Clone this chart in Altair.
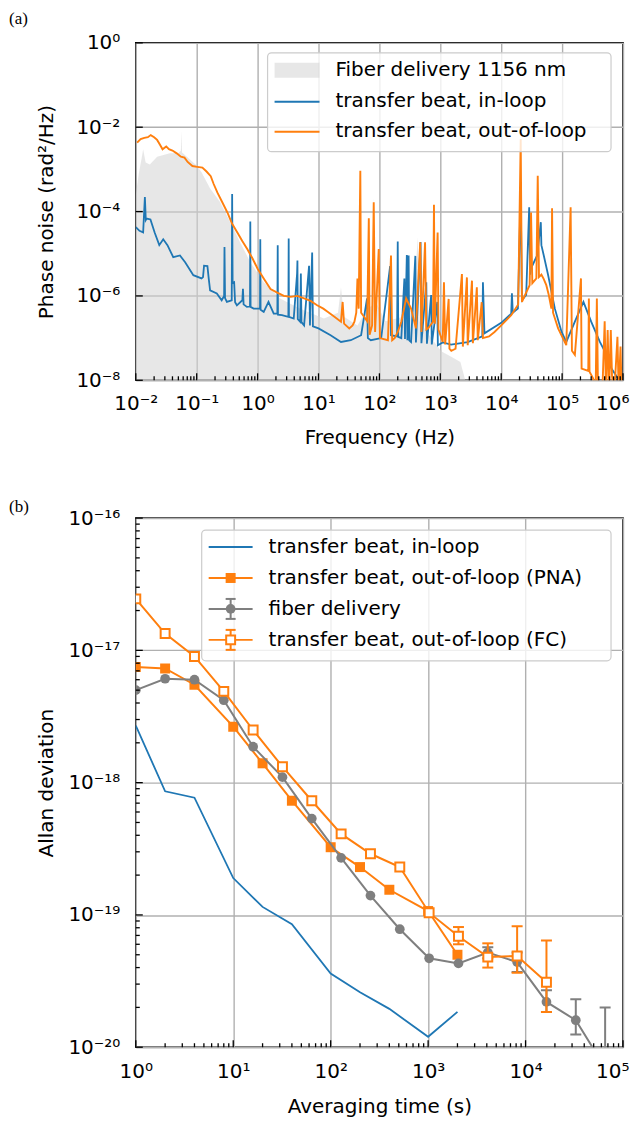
import math
import altair as alt
import pandas as pd

# ---------------- Panel (a): phase noise spectra ----------------
fiber_points = [
    (0.01, 2.5e-4), (0.0112, 7.9e-4), (0.0126, 2.0e-3), (0.0132, 3.0e-3), (0.0145, 1.45e-3),
    (0.017, 1.3e-3), (0.0224, 2.0e-3), (0.0363, 2.4e-3), (0.05, 2.4e-3), (0.055, 2.8e-3),
    (0.0562, 8.1e-3), (0.0575, 2.5e-3), (0.079, 1.66e-3), (0.1, 1.23e-3), (0.12, 8.5e-4),
    (0.166, 3.5e-4), (0.243, 1.66e-4), (0.355, 5.6e-5), (0.513, 1.9e-5), (0.759, 6.3e-6),
    (1.26, 2.1e-6), (2.34, 8.7e-7), (5.0, 5.0e-7), (12.3, 2.9e-7), (20.9, 4.0e-7),
    (23.4, 1.6e-6), (26.3, 3.2e-7), (43.6, 2.0e-7), (63, 5.0e-7), (77, 6.0e-7),
    (79.4, 2.3e-4), (82, 8.7e-7), (126, 2.5e-7), (251, 3.2e-7), (355, 5.0e-7),
    (427, 2.45e-5), (457, 2.5e-7), (708, 1.0e-7), (1047, 4.8e-8), (1514, 3.6e-8),
    (2138, 2.7e-8), (2570, 1.0e-8), (2818, 3.0e-9),
]

inloop_points = [
    (0.01, 4.3e-5), (0.0115, 3.5e-5), (0.0132, 3.2e-5), (0.0141, 2.2e-4), (0.0146, 6.3e-5),
    (0.0151, 6.8e-5), (0.0174, 6.5e-5), (0.0204, 3.2e-5), (0.0243, 1.6e-5), (0.0282, 2.2e-5),
    (0.0331, 1.6e-5), (0.0412, 8.3e-6), (0.0531, 9.1e-6), (0.0646, 6.3e-6), (0.0881, 3.1e-6),
    (0.120, 2.6e-6), (0.127, 2.8e-6), (0.132, 5.2e-6), (0.150, 5.1e-6), (0.158, 2.5e-6),
    (0.166, 1.35e-6), (0.214, 1.15e-6), (0.257, 7.9e-7), (0.282, 1.0e-6), (0.286, 1.45e-5),
    (0.292, 8.9e-7), (0.313, 7.2e-7), (0.376, 7.9e-7), (0.382, 2.6e-4), (0.389, 2.0e-6),
    (0.412, 2.1e-6), (0.427, 7.1e-7), (0.457, 6.0e-7), (0.562, 7.9e-7), (0.575, 1.48e-6),
    (0.589, 6.3e-7), (0.667, 5.5e-7), (0.75, 5.6e-7), (0.759, 5.8e-5), (0.767, 5.5e-7),
    (0.86, 5.0e-7), (1.096, 5.0e-7), (1.107, 2.2e-5), (1.12, 4.7e-7), (1.26, 4.2e-7),
    (1.51, 7.2e-7), (1.84, 3.8e-7), (2.11, 3.8e-7), (2.14, 1.6e-5), (2.16, 3.6e-7),
    (2.51, 3.5e-7), (3.2, 3.2e-7), (3.24, 2.3e-5), (3.27, 3.2e-7), (3.92, 2.9e-7),
    (4.45, 3.4e-6), (4.51, 6.9e-6), (4.57, 2.8e-7), (5.0, 2.45e-7), (5.13, 3.4e-6),
    (5.25, 2.4e-7), (5.8, 2.0e-7), (7.0, 5.2e-6), (7.24, 2.0e-7), (7.87, 1.07e-5),
    (8.1, 1.9e-7), (10, 1.7e-7), (15.8, 1.17e-7), (23.4, 8.1e-8), (33.9, 8.9e-8),
    (50.1, 1.17e-7), (62.7, 8.7e-7), (64.6, 1.0e-7), (72.4, 8.9e-8), (107, 1.0e-7),
    (150, 5.1e-6), (155, 1.17e-7), (195, 1.1e-7), (200, 1.95e-5), (204, 1.07e-7),
    (229, 1.0e-7), (257, 2.6e-6), (263, 9.5e-8), (282, 9.3e-6), (288, 8.9e-8),
    (302, 9.1e-6), (309, 8.9e-8), (331, 8.1e-8), (389, 8.9e-6), (398, 7.9e-8),
    (474, 1.9e-5), (490, 7.6e-8), (589, 2.1e-6), (603, 7.4e-8), (708, 1.05e-6),
    (724, 7.1e-8), (891, 7.2e-7), (912, 6.8e-8), (1096, 7.9e-8), (1500, 7.0e-8),
    (2818, 8.0e-8), (4900, 1.1e-7), (5012, 2.1e-6), (5309, 1.3e-7), (1.0e4, 2.3e-7),
    (1.46e4, 3.8e-7), (1.5e4, 1.15e-6), (1.55e4, 4.0e-7), (1.88e4, 5.0e-7), (2.09e4, 2.8e-4),
    (2.19e4, 7.9e-7), (2.57e4, 1.05e-6), (2.88e4, 1.26e-4), (2.99e4, 3.2e-6), (3.09e4, 4.5e-6),
    (3.89e4, 9.1e-6), (4.47e4, 5.6e-5), (4.57e4, 1.6e-5), (5.0e4, 9.1e-6), (5.9e4, 3.1e-6),
    (7.6e4, 5.0e-7), (9.8e4, 1.4e-7), (1.17e5, 8.1e-8), (1.62e5, 2.45e-7), (2.24e5, 7.2e-7),
    (3.0e5, 2.45e-7), (4.17e5, 8.1e-8), (5.37e5, 4.0e-8), (6.46e5, 1.9e-8), (8.3e5, 1.1e-8),
    (1.0e6, 7.9e-9),
]

outloop_points = [
    (0.0105, 4.3e-3), (0.012, 5.2e-3), (0.0138, 5.6e-3), (0.0158, 5.8e-3), (0.0176, 6.5e-3),
    (0.020, 5.8e-3), (0.0224, 5.0e-3), (0.0251, 3.8e-3), (0.0275, 3.0e-3), (0.0316, 3.5e-3),
    (0.035, 3.0e-3), (0.040, 2.8e-3), (0.047, 2.4e-3), (0.055, 2.0e-3), (0.063, 1.9e-3),
    (0.071, 1.5e-3), (0.085, 1.2e-3), (0.102, 1.15e-3), (0.124, 1.1e-3), (0.145, 8.9e-4),
    (0.17, 6.9e-4), (0.19, 4.5e-4), (0.219, 2.8e-4), (0.263, 1.66e-4), (0.319, 9.5e-5),
    (0.38, 5.2e-5), (0.465, 3.2e-5), (0.56, 2.0e-5), (0.676, 1.3e-5), (0.83, 7.6e-6),
    (1.0, 4.4e-6), (1.26, 2.6e-6), (1.63, 1.45e-6), (2.1, 1.2e-6), (2.7, 1.0e-6),
    (3.5, 9.5e-7), (4.47, 1.0e-6), (5.8, 8.7e-7), (7.4, 7.6e-7), (9.5, 6.0e-7),
    (12.0, 5.0e-7), (14.1, 4.2e-7), (17.8, 3.3e-7), (23.4, 2.45e-7), (24.9, 7.2e-7),
    (26.3, 2.2e-7), (32, 1.7e-7), (36.3, 2.0e-7), (38.9, 2.45e-7), (41.7, 4.0e-7),
    (43.6, 2.6e-6), (45.7, 5.0e-7), (48.6, 9.3e-4), (50.1, 4.0e-7), (56, 3.2e-7),
    (63, 2.5e-7), (67, 6.9e-5), (69, 1.2e-7), (75.9, 2.0e-7), (80.7, 1.66e-4),
    (85, 1.4e-7), (97.5, 1.3e-5), (102, 1.0e-7), (138, 8.9e-8), (155, 9.1e-6),
    (162, 8.9e-8), (178, 1.0e-7), (200, 1.4e-7), (229, 2.45e-7), (275, 8.7e-7),
    (331, 5.0e-7), (398, 1.7e-7), (468, 1.86e-5), (490, 1.4e-7), (562, 1.86e-5),
    (589, 1.6e-7), (631, 1.7e-7), (759, 2.45e-7), (787, 1.45e-4), (813, 2.2e-7),
    (904, 3.2e-5), (933, 1.6e-7), (1096, 8.1e-8), (1148, 2.1e-6), (1202, 7.1e-8),
    (1371, 8.5e-7), (1413, 5.6e-8), (1514, 5.0e-8), (1778, 5.6e-8), (2265, 3.3e-6),
    (2344, 6.3e-8), (2735, 2.75e-6), (2818, 6.8e-8), (3311, 2.3e-6), (3428, 7.6e-8),
    (3981, 1.6e-6), (4121, 8.9e-8), (4786, 7.1e-7), (5012, 1.0e-7), (6310, 1.1e-7),
    (7762, 1.4e-7), (1.0e4, 2.0e-7), (1.46e4, 3.5e-7), (1.9e4, 6.3e-7), (2.09e4, 5.2e-3),
    (2.19e4, 7.2e-7), (2.5e4, 1.1e-6), (2.93e4, 1.8e-6), (3.09e4, 9.5e-5), (3.24e4, 2.0e-6),
    (3.78e4, 2.6e-6), (3.98e4, 7.1e-4), (4.17e4, 2.8e-6), (4.57e4, 3.2e-6), (5.0e4, 2.5e-6),
    (5.5e4, 1.8e-6), (6.0e4, 1.1e-6), (6.67e4, 5.0e-7), (6.84e4, 1.2e-4), (7.1e4, 4.0e-7),
    (8.6e4, 1.7e-7), (1.17e5, 6.8e-8), (1.38e5, 1.26e-4), (1.45e5, 5.0e-8), (1.62e5, 4.0e-8),
    (2.04e5, 2.6e-6), (2.09e5, 1.9e-8), (2.69e5, 1.66e-8), (2.75e5, 8.7e-7), (2.82e5, 1.6e-8),
    (3.24e5, 1.1e-8), (3.55e5, 5e-9), (3.72e5, 8.7e-7), (3.89e5, 5e-9), (4.57e5, 5e-9),
    (5.0e5, 2.5e-7), (5.25e5, 5e-9), (5.6e5, 1.55e-7), (5.9e5, 5e-9), (6.3e5, 1.55e-7),
    (6.6e5, 1.26e-8), (7.2e5, 5e-9), (8.1e5, 1.07e-7), (8.5e5, 5e-9), (9.1e5, 6.3e-8),
    (9.5e5, 5e-9), (1.0e6, 5e-9),
]

# ---------------- Panel (b): Allan deviation ----------------
tau_inloop = [1, 2, 4, 10, 20, 40, 100, 200, 400, 1000, 2000]
adev_inloop = [2.7e-18, 8.6e-19, 7.7e-19, 1.9e-19, 1.15e-19, 8.5e-20, 3.6e-20, 2.6e-20,
               1.95e-20, 1.2e-20, 1.85e-20]

tau_pna = [1, 2, 4, 10, 20, 40, 100, 200, 400, 1000, 2000]
adev_pna = [7.5e-18, 7.3e-18, 5.5e-18, 2.65e-18, 1.4e-18, 7.3e-19, 3.25e-19, 2.3e-19,
            1.55e-19, 1.07e-19, 5.0e-20]

tau_fiber = [1, 2, 4, 8, 16, 32, 64, 128, 256, 512, 1024, 2048, 4096, 8192, 16384, 32768, 65536]
adev_fiber = [5.0e-18, 6.1e-18, 6.0e-18, 4.2e-18, 1.87e-18, 1.1e-18, 5.35e-19, 2.7e-19,
              1.4e-19, 7.8e-20, 4.7e-20, 4.3e-20, 5.2e-20, 4.4e-20, 2.2e-20, 1.6e-20, 7.0e-21]
fiber_err_tau = [4096, 8192, 16384, 32768, 65536]
fiber_err_lo = [4.7e-20, 3.7e-20, 1.85e-20, 1.25e-20, 3.0e-21]
fiber_err_hi = [5.7e-20, 5.2e-20, 2.7e-20, 2.3e-20, 2.0e-20]

tau_fc = [1, 2, 4, 8, 16, 32, 64, 128, 256, 512, 1024, 2048, 4096, 8192, 16384]
adev_fc = [2.45e-17, 1.34e-17, 9.0e-18, 4.9e-18, 2.5e-18, 1.32e-18, 7.3e-19, 4.1e-19,
           2.9e-19, 2.3e-19, 1.04e-19, 6.9e-20, 4.8e-20, 4.9e-20, 3.1e-20]
fc_err_tau = [2048, 4096, 8192, 16384]
fc_err_lo = [6.0e-20, 4.0e-20, 3.65e-20, 1.85e-20]
fc_err_hi = [8.1e-20, 6.1e-20, 8.2e-20, 6.4e-20]

# tick positions / labels
xa_major = [1e-2, 1e-1, 1e0, 1e1, 1e2, 1e3, 1e4, 1e5, 1e6]
ya_major = [1e0, 1e-2, 1e-4, 1e-6, 1e-8]
xb_major = [1e0, 1e1, 1e2, 1e3, 1e4, 1e5]
yb_major = [1e-16, 1e-17, 1e-18, 1e-19, 1e-20]
minor_mult = [2, 3, 4, 5, 6, 7, 8, 9]

BLUE, ORANGE, GRAY = "#1f77b4", "#ff7f0e", "#7f7f7f"
FONT = "DejaVu Sans"
FS = 20

SUP = str.maketrans("-0123456789", "⁻⁰¹²³⁴⁵⁶⁷⁸⁹")


def pow_expr(vals):
    parts = []
    for v in vals:
        e = int(round(math.log10(v)))
        parts.append(f"round(log(datum.value)/LN10) == {e} ? '10{str(e).translate(SUP)}'")
    return " : ".join(parts) + " : ''"


def one():
    return pd.DataFrame({"k": [0]})


def txt(s, x, y, size=FS, font=FONT, align="left", baseline="middle"):
    return alt.Chart(one()).mark_text(text=s, font=font, fontSize=size, align=align,
                                      baseline=baseline, color="black").encode(
        x=alt.value(x), y=alt.value(y))


def hline(x1, x2, y, color, w=2):
    return alt.Chart(one()).mark_rule(color=color, strokeWidth=w).encode(
        x=alt.value(x1), x2=alt.value(x2), y=alt.value(y))


def legend_box(x1, x2, y1, y2):
    return alt.Chart(one()).mark_rect(fill="white", fillOpacity=0.8, stroke="#cccccc",
                                      strokeWidth=1.2, cornerRadius=4).encode(
        x=alt.value(x1), x2=alt.value(x2), y=alt.value(y1), y2=alt.value(y2))


def common_axis(vals, title, lp, tp, last=None):
    kw = {}
    if last is not None:
        kw["labelAlign"] = {"condition": {"test": f"datum.value > {last}", "value": "right"},
                            "value": "center"}
        kw["labelOffset"] = {"condition": {"test": f"datum.value > {last}", "value": 6},
                             "value": 0}
    return alt.Axis(values=vals, labelExpr=pow_expr(vals), title=title, grid=True, ticks=False,
                    domain=False, labelFlush=False, labelOverlap=False, labelPadding=lp,
                    titlePadding=tp, **kw)


# ----- panel (a) -----
W1, H1 = 488, 338
xs_a = alt.Scale(type="log", domain=[1e-2, 1e6], nice=False)
ys_a = alt.Scale(type="log", domain=[1e-8, 1e0], nice=False)
ax_xa = common_axis(xa_major, "Frequency (Hz)", 13, 14, last=5e5)
ax_ya = common_axis(ya_major, "Phase noise (rad²/Hz)", 16, 19)
XA = lambda f="f": alt.X(f"{f}:Q", scale=xs_a, axis=ax_xa)
YA = lambda f="s": alt.Y(f"{f}:Q", scale=ys_a, axis=ax_ya, stack=None)

df_fib = pd.DataFrame(fiber_points, columns=["f", "s"])
df_in = pd.DataFrame(inloop_points, columns=["f", "s"])
df_out = pd.DataFrame(outloop_points, columns=["f", "s"])

area_a = alt.Chart(df_fib).mark_area(color="#d3d3d3", opacity=0.55, clip=True).encode(
    x=XA(), y=YA(), y2=alt.value(H1))
line_in = alt.Chart(df_in).mark_line(color=BLUE, strokeWidth=1.8, clip=True).encode(x=XA(), y=YA())
line_out = alt.Chart(df_out).mark_line(color=ORANGE, strokeWidth=1.9, clip=True).encode(x=XA(), y=YA())

xa_minor = [m * d for d in xa_major[:-1] for m in minor_mult]


def xticks(vals, X, H, length):
    return alt.Chart(pd.DataFrame({"f": vals, "t": vals})).mark_rule(color="black", strokeWidth=1.3).encode(
        x=X, y=alt.value(H), y2=alt.value(H - length))


def yticks(vals, Y, length):
    return alt.Chart(pd.DataFrame({"s": vals, "a": vals})).mark_rule(color="black", strokeWidth=1.3).encode(
        y=Y, x=alt.value(0), x2=alt.value(length))


leg_a = [
    legend_box(132, 476, 10, 109),
    alt.Chart(one()).mark_rect(color="#d3d3d3", opacity=0.55).encode(
        x=alt.value(139), x2=alt.value(184), y=alt.value(20), y2=alt.value(35)),
    hline(139, 184, 59, BLUE),
    hline(139, 184, 89, ORANGE),
    txt("Fiber delivery 1156 nm", 200, 27),
    txt("transfer beat, in-loop", 200, 58),
    txt("transfer beat, out-of-loop", 200, 88),
]

panel_a = alt.layer(
    area_a, line_in, line_out,
    xticks(xa_major, XA(), H1, 7), xticks(xa_minor, XA(), H1, 4),
    yticks(ya_major, YA(), 7),
    *leg_a,
    txt("(a)", -127, -32, size=17, font="Liberation Serif", baseline="top"),
).properties(width=W1, height=H1)

# ----- panel (b) -----
W2, H2 = 488, 530
xs_b = alt.Scale(type="log", domain=[1e0, 1e5], nice=False)
ys_b = alt.Scale(type="log", domain=[1e-20, 1e-16], nice=False)
ax_xb = common_axis(xb_major, "Averaging time (s)", 14, 15, last=5e4)
ax_yb = common_axis(yb_major, "Allan deviation", 16, 11)
X = lambda f="t": alt.X(f"{f}:Q", scale=xs_b, axis=ax_xb)
Y = lambda f="a": alt.Y(f"{f}:Q", scale=ys_b, axis=ax_yb, stack=None)

df_il = pd.DataFrame({"t": tau_inloop, "a": adev_inloop})
df_pna = pd.DataFrame({"t": tau_pna, "a": adev_pna})
df_fd = pd.DataFrame({"t": tau_fiber, "a": adev_fiber})
df_fde = pd.DataFrame({"t": fiber_err_tau, "lo": fiber_err_lo, "hi": fiber_err_hi})
df_fc = pd.DataFrame({"t": tau_fc, "a": adev_fc})
df_fce = pd.DataFrame({"t": fc_err_tau, "lo": fc_err_lo, "hi": fc_err_hi})

il_line = alt.Chart(df_il).mark_line(color=BLUE, strokeWidth=1.8, clip=True).encode(x=X(), y=Y())
pna_line = alt.Chart(df_pna).mark_line(color=ORANGE, strokeWidth=2, clip=True).encode(x=X(), y=Y())
pna_pts = alt.Chart(df_pna).mark_point(shape="square", filled=True, color=ORANGE, size=100,
                                       opacity=1, clip=True).encode(x=X(), y=Y())


def errbars(df, color):
    bar = alt.Chart(df).mark_rule(color=color, strokeWidth=2, clip=True).encode(
        x=X(), y=Y("lo"), y2=alt.Y2("hi:Q"))
    cap_lo = alt.Chart(df).mark_tick(color=color, orient="horizontal", size=11, thickness=2,
                                     opacity=1, clip=True).encode(x=X(), y=Y("lo"))
    cap_hi = alt.Chart(df).mark_tick(color=color, orient="horizontal", size=11, thickness=2,
                                     opacity=1, clip=True).encode(x=X(), y=Y("hi"))
    return [bar, cap_lo, cap_hi]


fd_line = alt.Chart(df_fd).mark_line(color=GRAY, strokeWidth=2, clip=True).encode(x=X(), y=Y())
fd_pts = alt.Chart(df_fd).mark_circle(color=GRAY, size=95, opacity=1, clip=True).encode(x=X(), y=Y())
fc_line = alt.Chart(df_fc).mark_line(color=ORANGE, strokeWidth=2, clip=True).encode(x=X(), y=Y())
fc_pts = alt.Chart(df_fc).mark_point(shape="square", fill="white", fillOpacity=1, stroke=ORANGE,
                                     strokeWidth=2, size=80, opacity=1, clip=True).encode(x=X(), y=Y())

xb_minor = [m * d for d in xb_major[:-1] for m in minor_mult]
yb_minor = [m * d for d in yb_major[1:] for m in minor_mult]


def leg_err(x, y, color):
    return [
        alt.Chart(one()).mark_rule(color=color, strokeWidth=2).encode(
            x=alt.value(x), y=alt.value(y - 10), y2=alt.value(y + 10)),
        hline(x - 5, x + 5, y - 10, color),
        hline(x - 5, x + 5, y + 10, color),
    ]


LX1, LX2, MX, TX = 73, 117, 95, 133
leg_b = [
    legend_box(66, 476, 12, 143),
    hline(LX1, LX2, 29, BLUE),
    hline(LX1, LX2, 60, ORANGE),
    alt.Chart(one()).mark_point(shape="square", filled=True, color=ORANGE, size=100, opacity=1).encode(
        x=alt.value(MX), y=alt.value(60)),
    *leg_err(MX, 91, GRAY),
    hline(LX1, LX2, 91, GRAY),
    alt.Chart(one()).mark_circle(color=GRAY, size=95, opacity=1).encode(x=alt.value(MX), y=alt.value(91)),
    *leg_err(MX, 122, ORANGE),
    hline(LX1, LX2, 122, ORANGE),
    alt.Chart(one()).mark_point(shape="square", fill="white", fillOpacity=1, stroke=ORANGE,
                                strokeWidth=2, size=80, opacity=1).encode(x=alt.value(MX), y=alt.value(122)),
    txt("transfer beat, in-loop", TX, 29),
    txt("transfer beat, out-of-loop (PNA)", TX, 60),
    txt("fiber delivery", TX, 91),
    txt("transfer beat, out-of-loop (FC)", TX, 122),
]

panel_b = alt.layer(
    il_line, pna_line, pna_pts,
    *errbars(df_fde, GRAY), fd_line, fd_pts,
    *errbars(df_fce, ORANGE), fc_line, fc_pts,
    xticks(xb_major, X(), H2, 7), xticks(xb_minor, X(), H2, 4),
    yticks(yb_major, Y(), 7), yticks(yb_minor, Y(), 4),
    *leg_b,
    txt("(b)", -127, -19, size=17, font="Liberation Serif", baseline="top"),
).properties(width=W2, height=H2)

chart = alt.vconcat(panel_a, panel_b, spacing=49).properties(
    padding={"left": 0, "top": 0, "right": 0, "bottom": 0}
).configure_view(stroke="black", strokeWidth=1.6).configure_axis(
    labelFont=FONT, labelFontSize=FS, titleFont=FONT, titleFontSize=FS, titleFontWeight="normal",
    labelColor="black", titleColor="black", gridColor="#b0b0b0", gridWidth=1.4,
)

chart.save("out.html", embed_options={"renderer": "svg", "actions": False})
